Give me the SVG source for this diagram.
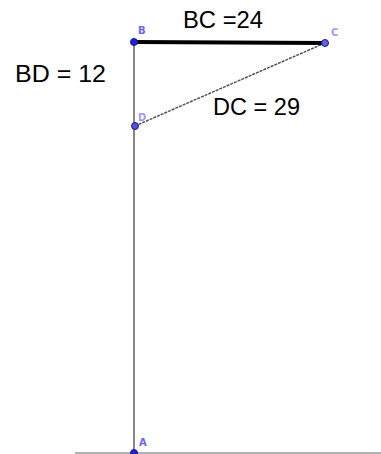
<svg xmlns="http://www.w3.org/2000/svg" width="381" height="454" viewBox="0 0 381 454">
<style>
.lbl{font-family:"Liberation Sans",Arial,sans-serif;font-size:23px;fill:#000}
.pt{font-family:"DejaVu Sans",sans-serif;font-size:10px;fill:#6464ff;font-weight:bold}
.dot{fill:#2020e0;stroke:#1a1a80;stroke-width:1}
</style>
<rect width="381" height="454" fill="#fff"/>
<g id="connectors">
<line x1="75" y1="453" x2="381" y2="453" stroke="#999" stroke-width="1.5"/>
<line x1="134" y1="42" x2="134" y2="453" stroke="#888" stroke-width="2"/>
<line x1="135" y1="126" x2="325" y2="43" stroke="#555" stroke-width="1.5" stroke-dasharray="3,1"/>
<line x1="134" y1="42" x2="325" y2="43" stroke="#000" stroke-width="4"/>
</g>
<g id="B"><circle class="dot" cx="134" cy="42" r="3.5"/><text class="pt" x="138" y="34">B</text></g>
<g id="C"><circle class="dot" cx="325" cy="43" r="3.5" style="fill:#6060f0"/><text class="pt" x="331" y="36" style="fill:#9c9cff">C</text></g>
<g id="D"><circle class="dot" cx="135" cy="126" r="3.5" style="fill:#5050e0"/><text class="pt" x="138" y="121" style="fill:#9c9cff">D</text></g>
<g id="A"><circle class="dot" cx="134" cy="453" r="3.5"/><text class="pt" x="139" y="446">A</text></g>
<g id="labels">
<text class="lbl" x="183" y="28" textLength="80" lengthAdjust="spacingAndGlyphs">BC =24</text>
<text class="lbl" x="15" y="82" textLength="91" lengthAdjust="spacingAndGlyphs">BD = 12</text>
<text class="lbl" x="213" y="115" textLength="87" lengthAdjust="spacingAndGlyphs">DC = 29</text>
</g>
</svg>
